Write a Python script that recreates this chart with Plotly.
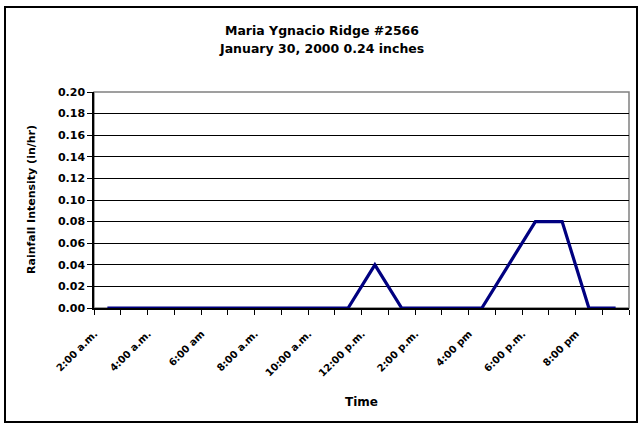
import plotly.graph_objects as go

# ---- data ----
hours = ["2:00 am", "3:00 am", "4:00 am", "5:00 am", "6:00 am", "7:00 am", "8:00 am",
         "9:00 am", "10:00 am", "11:00 am", "12:00 pm", "1:00 pm", "2:00 pm", "3:00 pm",
         "4:00 pm", "5:00 pm", "6:00 pm", "7:00 pm", "8:00 pm", "9:00 pm"]
intensity = [0, 0, 0, 0, 0, 0, 0, 0, 0, 0, 0.04, 0, 0, 0, 0, 0.04, 0.08, 0.08, 0, 0]
tick_labels = ["2:00 a.m.", "4:00 a.m.", "6:00 am", "8:00 a.m.", "10:00 a.m.",
               "12:00 p.m.", "2:00 p.m.", "4:00 pm", "6:00 p.m.", "8:00 pm"]
y_ticks = [0.00, 0.02, 0.04, 0.06, 0.08, 0.10, 0.12, 0.14, 0.16, 0.18, 0.20]

FONT = "DejaVu Sans"
W, H = 643, 429
ML, MR, MT, MB = 94, 14, 92, 121
PW, PH = W - ML - MR, H - MT - MB


def px_x(px):
    return (px - ML) / PW


def px_y(py):
    return (H - MB - py) / PH


n = len(hours)
xs = list(range(n))
label_shift = 0.48   # labels sit a little left of their category, as in the original

fig = go.Figure()
fig.add_trace(go.Scatter(
    x=xs, y=intensity, mode="lines",
    line=dict(color="#000080", width=3.2),
    hoverinfo="skip", showlegend=False,
))
# empty trace so the label axis is drawn
fig.add_trace(go.Scatter(x=[], y=[], xaxis="x2", yaxis="y", showlegend=False,
                         hoverinfo="skip"))

fig.update_layout(
    width=W, height=H,
    margin=dict(l=ML, r=MR, t=MT, b=MB, pad=0),
    paper_bgcolor="white", plot_bgcolor="white",
    font=dict(family=FONT, color="black", size=11),
    showlegend=False,
    xaxis=dict(
        range=[-0.5, n - 0.5],
        showticklabels=False, ticks="",
        showgrid=False, zeroline=False,
        showline=True, linecolor="black", linewidth=1.5,
        minor=dict(ticks="outside", tickmode="array",
                   tickvals=[i - 0.5 for i in range(n + 1)],
                   ticklen=5, tickwidth=1, tickcolor="black", showgrid=False),
    ),
    xaxis2=dict(
        overlaying="x", anchor="y", side="bottom",
        range=[-0.5 + label_shift, n - 0.5 + label_shift],
        tickmode="array",
        tickvals=list(range(0, n, 2)),
        ticktext=tick_labels,
        ticks="outside", ticklen=15, tickcolor="rgba(0,0,0,0)",
        tickangle=-45,
        tickfont=dict(family=FONT, size=10, weight="bold", color="black"),
        showgrid=False, zeroline=False, showline=False,
    ),
    yaxis=dict(
        range=[0, 0.20],
        tickmode="array", tickvals=y_ticks,
        ticktext=[f"{v:.2f}" for v in y_ticks],
        ticks="outside", ticklen=5, tickwidth=1, tickcolor="black",
        tickfont=dict(family=FONT, size=11, weight="bold"),
        showgrid=True, gridcolor="black", gridwidth=1,
        zeroline=False,
        showline=True, linecolor="black", linewidth=1.5,
    ),
)

# titles as positioned text
title_font = dict(family=FONT, size=12.5, weight="bold", color="black")
fig.add_annotation(text="Maria Ygnacio Ridge #2566", xref="paper", yref="paper",
                   x=px_x(W / 2), y=px_y(30), xanchor="center", yanchor="middle",
                   showarrow=False, font=title_font)
fig.add_annotation(text="January 30, 2000 0.24 inches", xref="paper", yref="paper",
                   x=px_x(W / 2), y=px_y(49), xanchor="center", yanchor="middle",
                   showarrow=False, font=title_font)
fig.add_annotation(text="Time", xref="paper", yref="paper",
                   x=0.5, y=px_y(402), xanchor="center", yanchor="middle",
                   showarrow=False, font=dict(family=FONT, size=12, weight="bold"))
fig.add_annotation(text="Rainfall Intensity (in/hr)", xref="paper", yref="paper",
                   x=px_x(31), y=0.5, xanchor="center", yanchor="middle", textangle=-90,
                   showarrow=False, font=dict(family=FONT, size=11, weight="bold"))

# plot-area frame (grey top/right edges)
fig.add_shape(type="rect", xref="paper", yref="paper", x0=0, y0=0, x1=1, y1=1,
              line=dict(color="#808080", width=1.5), layer="below")

# outer chart border
fig.add_shape(type="rect", xref="paper", yref="paper",
              x0=px_x(5), x1=px_x(637), y0=px_y(422), y1=px_y(7),
              line=dict(color="black", width=2), layer="below")

fig.write_html("out.html", config={"displayModeBar": False},
               post_script="document.body.style.margin='0px';")
